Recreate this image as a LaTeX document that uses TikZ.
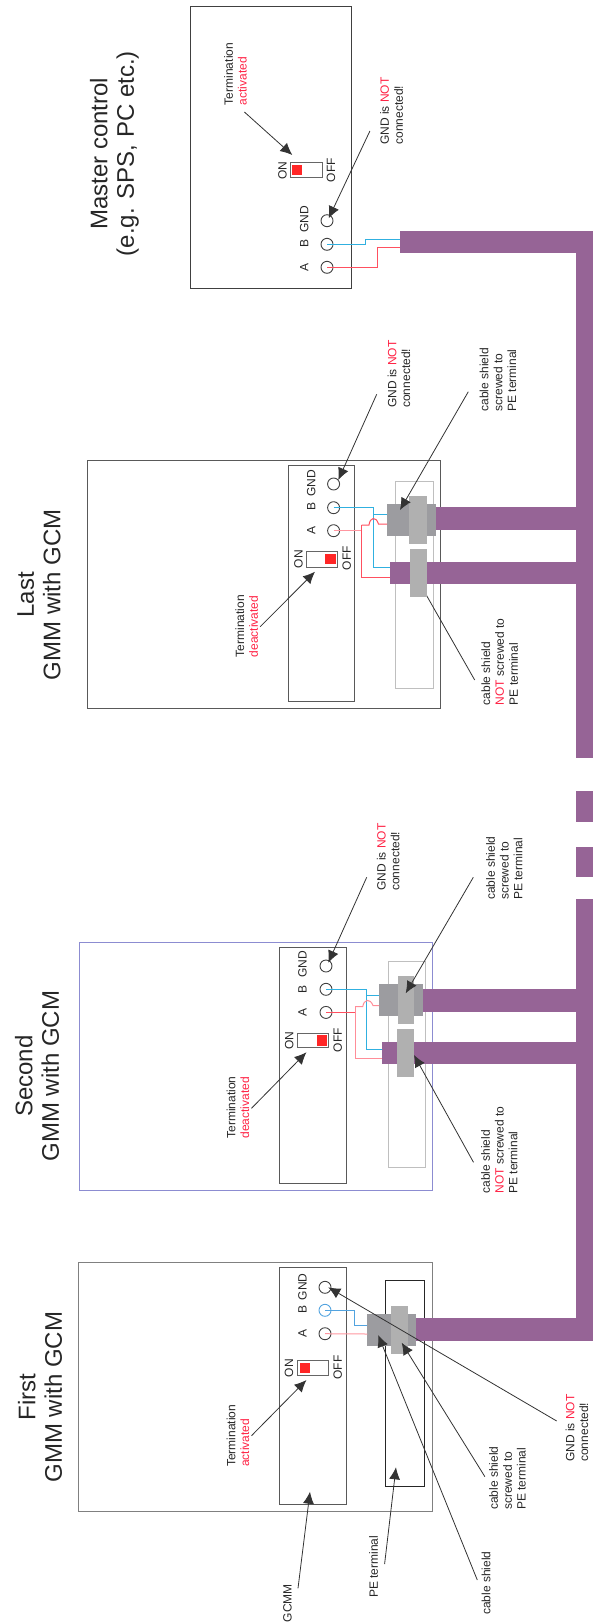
\documentclass[tikz,border=0pt]{standalone}
\usepackage{fontspec}
\setmainfont{Liberation Sans}
\usepackage{tikz}
\usetikzlibrary{arrows.meta,fit}

\definecolor{cablecol}{HTML}{966496}
\definecolor{glandcol}{HTML}{9C9CA0}
\definecolor{nutcol}{HTML}{B0B0B0}
\definecolor{notcol}{HTML}{FF2244}
\definecolor{wireB}{HTML}{30B0E0}
\definecolor{wireA}{HTML}{FF5060}
\newcommand{\red}[1]{\textcolor{notcol}{#1}}

\begin{document}
\begin{tikzpicture}[x=1pt,y=-1pt,>={Latex[length=12pt,width=11pt]}]
\tikzstyle{every node}=[inner sep=0pt,outer sep=0pt]
\tikzstyle{housing}=[draw=black!65,line width=1pt]
\tikzstyle{module}=[draw=black!65,line width=1pt]
\tikzstyle{terminal}=[draw=black!25,line width=1pt]
\tikzstyle{cable}=[fill=cablecol]
\tikzstyle{gland}=[fill=glandcol]
\tikzstyle{nut}=[fill=nutcol]
\tikzstyle{switchbox}=[draw=black!60,fill=white,line width=1pt]
\tikzstyle{switchpin}=[fill=red!85!white]
\tikzstyle{pin}=[circle,draw=black!75,line width=0.9pt,minimum size=12pt]
\tikzstyle{small}=[rotate=90,align=left,font=\fontsize{12}{13.8}\selectfont,text=black!85]
\tikzstyle{title}=[rotate=90,align=center,font=\fontsize{24}{26.5}\selectfont,text=black!85]
\tikzstyle{pointer}=[->,draw=black!80,line width=0.8pt]
\tikzstyle{wireb}=[draw=wireB,line width=1pt]
\tikzstyle{wirea}=[draw=wireA,line width=1pt]

\useasboundingbox (0,0) rectangle (593,1623);

	\node[cable,fit={(575.5,230.7) (593,758.3)}] (trunk1){};
	\node[cable,fit={(575.5,791) (593,821.7)}] (trunk2){};
	\node[cable,fit={(575.5,846.7) (593,877.3)}] (trunk3){};
	\node[cable,fit={(575.5,899.3) (593,1340.7)}] (trunk4){};

	% master control
	\node[title] at (114.5,153.7) (titleM){Master control\\(e.g. SPS, PC etc.)};
	\node[housing,draw=black!75,fit={(190.6,6.7) (351.8,288.3)}] (boxM){};
	\node[cable,fit={(399.5,230.7) (575.5,253.3)}] (cabM){};
	\node[pin] at (327,220.7) (gndM){};
	\node[pin] at (327,244.3) (bM){};
	\node[pin] at (327,267.3) (aM){};
	\node[small] at (304.2,219) (lgndM){GND};
	\node[small] at (304.2,243) (lbM){B};
	\node[small] at (304.2,267.7) (laM){A};
	\node[switchbox,fit={(290.6,162.7) (322,177.7)}] (swM){};
	\node[switchpin,fit={(292.3,165) (302.2,175)}] (pinM){};
	\node[small] at (282.4,170.7) (onM){ON};
	\node[small] at (331,170) (offM){OFF};
	\node[small] at (235.5,74) (termM){Termination\\\red{activated}};
	\node[small] at (391.6,111) (noteM){GND is \red{NOT}\\connected!};
	\coordinate (wbM) at (399.5,239);
	\coordinate (waM) at (399.5,247.3);
	\draw[wireb] (bM.center) -- (365,244.3) -- (365,239) -- (wbM);
	\draw[wirea] (aM.center) -- (377,267.3) -- (377,247.3) -- (waM);
	\coordinate (p1M) at (244.4,112);
	\coordinate (q1M) at (292.3,155);
	\coordinate (p2M) at (369.9,131);
	\coordinate (q2M) at (328.7,218.3);
	\draw[pointer] (p1M) -- (q1M);
	\draw[pointer] (p2M) -- (q2M);

	% last
	\node[title] at (39,594.7) (titleL){Last\\GMM with GCM};
	\node[housing,fit={(87.7,460.3) (440.2,708.7)}] (boxL){};
	\node[module,fit={(288.2,465.7) (354.4,701.7)}] (modL){};
	\node[terminal,fit={(395.2,481.7) (433.8,688.3)}] (peL){};
	\node[cable,fit={(436,507) (575.5,530)}] (cabL){};
	\node[cable,fit={(390,561.7) (575.5,584.3)}] (cabbL){};
	\node[small] at (499.7,661.7) (notL){cable shield\\\red{NOT} screwed to\\PE terminal};
	\coordinate (p3L) at (474.7,680);
	\coordinate (q3L) at (420,584);
	\draw[pointer,-] (p3L) -- (q3L);
	\node[gland,fit={(387,503.7) (436,535.7)}] (glL){};
	\node[nut,fit={(409.3,496) (427,543.7)}] (nutL){};
	\node[nut,fit={(410.3,549.3) (427,597.3)}] (nutbL){};
	\node[pin] at (333.6,484) (gndL){};
	\node[pin] at (333.6,507.7) (bL){};
	\node[pin] at (333.6,530.7) (aL){};
	\node[small] at (311.3,483) (lgndL){GND};
	\node[small] at (311.3,506.7) (lbL){B};
	\node[small] at (311.3,530.7) (laL){A};
	\node[switchbox,fit={(306.4,551.3) (337.4,567)}] (swL){};
	\node[switchpin,fit={(324.5,554) (335.5,564.3)}] (pinL){};
	\node[small] at (298.4,559) (onL){ON};
	\node[small] at (346.8,558.3) (offL){OFF};
	\node[small] at (246.7,626) (termL){Termination\\\red{deactivated}};
	\node[small] at (399,374) (noteL){GND is \red{NOT}\\connected!};
	\node[small] at (498,379.7) (scrL){cable shield\\screwed to\\PE terminal};
	\coordinate (wbL) at (390,567.3);
	\coordinate (wb2L) at (387,514);
	\coordinate (waL) at (390,577.3);
	\coordinate (wa2L) at (387,524);
	\draw[wireb] (bL.center) -- (373,507.7) -- (373,567.3) -- (wbL);
	\draw[wireb] (373,514) -- (wb2L);
	\draw[wirea,draw=wireA!60] (aL.center) -- (361.7,530.7);
	\draw[wirea] (361.7,525) -- (361.7,577.3) -- (waL);
	\draw[wirea] (361.7,525) -- (369,525) .. controls (370,517) and (376,516) .. (378.5,524) -- (wa2L);
	\coordinate (p1L) at (260.2,626.7);
	\coordinate (q1L) at (315,571.7);
	\coordinate (p2L) at (376.7,394.3);
	\coordinate (q2L) at (338.3,480);
	\coordinate (p4L) at (468.3,391.7);
	\coordinate (q4L) at (400,510);
	\draw[pointer] (p1L) -- (q1L);
	\draw[pointer] (p2L) -- (q2L);
	\draw[pointer] (p4L) -- (q4L);

	% second
	\node[title] at (37,1076) (titleS){Second\\GMM with GCM};
	\node[housing,draw=blue!60!black!45,fit={(79.8,942) (432.7,1190.3)}] (boxS){};
	\node[module,fit={(279.9,947.3) (346.4,1183.3)}] (modS){};
	\node[terminal,fit={(388.4,961.3) (425.5,1167.7)}] (peS){};
	\node[cable,fit={(422.7,989) (575.5,1012)}] (cabS){};
	\node[cable,fit={(381.7,1041.7) (575.5,1064.3)}] (cabbS){};
	\node[gland,fit={(379,984.3) (422.7,1016)}] (glS){};
	\node[nut,fit={(397.7,976.3) (414.3,1024.3)}] (nutS){};
	\node[nut,fit={(397,1029) (413.7,1077.3)}] (nutbS){};
	\node[pin] at (326,966) (gndS){};
	\node[pin] at (326,989.3) (bS){};
	\node[pin] at (326,1012.4) (aS){};
	\node[small] at (302.6,964.3) (lgndS){GND};
	\node[small] at (302.6,989) (lbS){B};
	\node[small] at (302.6,1012.7) (laS){A};
	\node[switchbox,fit={(297.7,1033) (328.3,1047.3)}] (swS){};
	\node[switchpin,fit={(317,1035.3) (327,1046)}] (pinS){};
	\node[small] at (289.3,1040.7) (onS){ON};
	\node[small] at (337.7,1040) (offS){OFF};
	\node[small] at (238,1107.5) (termS){Termination\\\red{deactivated}};
	\node[small] at (388.3,857) (noteS){GND is \red{NOT}\\connected!};
	\node[small] at (504.3,868) (scrS){cable shield\\screwed to\\PE terminal};
	\node[small] at (499.3,1150) (notS){cable shield\\\red{NOT} screwed to\\PE terminal};
	\coordinate (wbS) at (381.7,1049);
	\coordinate (wb2S) at (379,995);
	\coordinate (waS) at (381.7,1058.7);
	\coordinate (wa2S) at (379,1005.5);
	\draw[wireb] (bS.center) -- (366.7,989.3) -- (366.7,1049) -- (wbS);
	\draw[wireb] (366.7,995) -- (wb2S);
	\draw[wirea] (aS.center) -- (355,1012.4);
	\draw[wirea,draw=wireA!65] (355,1006.7) -- (355,1058.7) -- (waS);
	\draw[wirea,draw=wireA!65] (355,1006.7) -- (362.7,1006.7) .. controls (364,999) and (370,998) .. (373,1005.5) -- (wa2S);
	\coordinate (p1S) at (251.5,1108.3);
	\coordinate (q1S) at (306.4,1052.3);
	\coordinate (p2S) at (366.7,877.3);
	\coordinate (q2S) at (328.3,962.7);
	\coordinate (p3S) at (473.3,877.3);
	\coordinate (q3S) at (405.7,993.3);
	\coordinate (p4S) at (473.5,1162.3);
	\coordinate (q4S) at (414,1055);
	\draw[pointer] (p1S) -- (q1S);
	\draw[pointer] (p2S) -- (q2S);
	\draw[pointer] (p3S) -- (q3S);
	\draw[pointer] (p4S) -- (q4S);

	% first
	\node[title] at (40,1397) (titleF){First\\GMM with GCM};
	\node[housing,draw=black!50,line width=1.2pt,fit={(78.3,1262.3) (432.3,1511.7)}] (boxF){};
	\node[module,fit={(279,1267.7) (346.4,1504.3)}] (modF){};
	\node[terminal,draw=black!85,fit={(385.4,1280.3) (424,1486.7)}] (peF){};
	\node[cable,fit={(416.3,1318.3) (575.5,1340.7)}] (cabF){};
	\node[gland,fit={(367.3,1314.3) (416.3,1346)}] (glF){};
	\node[nut,fit={(391.3,1306) (408.3,1354)}] (nutF){};
	\node[pin] at (325,1287.3) (gndF){};
	\node[pin,draw=cyan!70!blue!70] at (325,1310.3) (bF){};
	\node[pin] at (325,1333.7) (aF){};
	\node[small] at (302.6,1286.7) (lgndF){GND};
	\node[small] at (302.6,1309) (lbF){B};
	\node[small] at (302.6,1333.7) (laF){A};
	\node[switchbox,fit={(297.7,1360.3) (328.3,1375.3)}] (swF){};
	\node[switchpin,fit={(300,1363) (310,1373)}] (pinF){};
	\node[small] at (289,1368) (onF){ON};
	\node[small] at (337.7,1367.6) (offF){OFF};
	\node[small] at (238,1435.8) (termF){Termination\\\red{activated}};
	\node[small] at (577,1428) (noteF){GND is \red{NOT}\\connected!};
	\node[small] at (507.5,1478) (scrF){cable shield\\screwed to\\PE terminal};
	\node[small] at (486,1583) (shF){cable shield};
	\node[small] at (373.7,1566.7) (lpeF){PE terminal};
	\node[small] at (287.4,1603) (lgcF){GCMM};
	\coordinate (wbF) at (367.3,1325.3);
	\coordinate (waF) at (367.3,1334);
	\draw[wireb,draw=cyan!70!blue!70] (bF.center) -- (354,1310.3) -- (354,1325.3) -- (wbF);
	\draw[wirea,draw=wireA!60] (aF.center) -- (waF);
	\coordinate (p1F) at (251.5,1435.7);
	\coordinate (q1F) at (306.4,1380);
	\coordinate (p2F) at (556.7,1421);
	\coordinate (q2F) at (328.3,1287.3);
	\coordinate (p3F) at (484.9,1476.7);
	\coordinate (q3F) at (401.7,1342.7);
	\coordinate (p4F) at (477.3,1580);
	\coordinate (q4F) at (378.2,1335);
	\coordinate (p5F) at (384.6,1564);
	\coordinate (q5F) at (396,1467.3);
	\coordinate (p6F) at (298,1588.3);
	\coordinate (q6F) at (310,1491.7);
	\draw[pointer] (p1F) -- (q1F);
	\draw[pointer] (p2F) -- (q2F);
	\draw[pointer] (p3F) -- (q3F);
	\draw[pointer] (p4F) -- (q4F);
	\draw[pointer] (p5F) -- (q5F);
	\draw[pointer] (p6F) -- (q6F);

\end{tikzpicture}
\end{document}
